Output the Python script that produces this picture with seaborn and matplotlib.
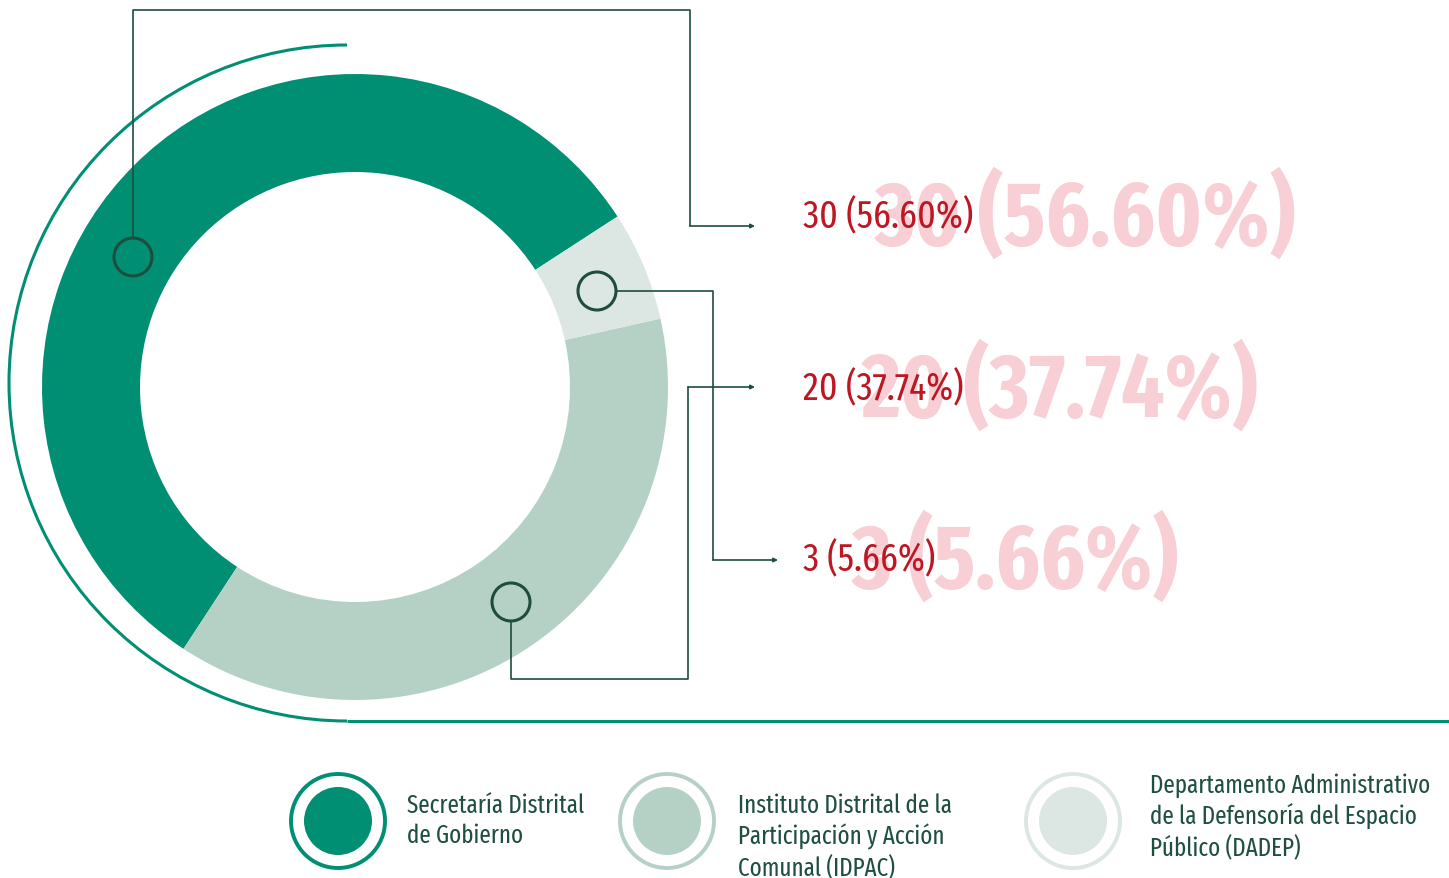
import matplotlib
matplotlib.use("Agg")
import matplotlib.pyplot as plt
import seaborn as sns
from matplotlib.patches import Arc, Circle

# ---- data ----
entities = ["Secretaría Distrital\nde Gobierno",
            "Instituto Distrital de la\nParticipación y Acción\nComunal (IDPAC)",
            "Departamento Administrativo\nde la Defensoría del Espacio\nPúblico (DADEP)"]
counts = [30, 20, 3]
percents = [56.60, 37.74, 5.66]
colors = ["#008F72", "#B5D1C6", "#DCE6E2"]

sns.set_theme(style="white")
plt.rcParams['font.family'] = ['Fira Sans Extra Condensed', 'DejaVu Sans']

W, H = 1449, 879
fig = plt.figure(figsize=(W / 100, H / 100), dpi=100)
ax = fig.add_axes([0, 0, 1, 1])

def Y(y):
    return H - y

LINE = "#1E4D40"
GREEN = "#008F72"
RED = "#BE1622"
PINK = "#F7CFD4"

# donut
cx, cy, R, w = 355, 388, 313, 98
ax.pie(counts, colors=colors, startangle=33, counterclock=True,
       center=(cx, Y(cy)), radius=R,
       wedgeprops=dict(width=w, edgecolor="none", linewidth=0))

# outer decorative arc + base line
ax.add_patch(Arc((347, Y(384)), 2 * 338, 2 * 338, theta1=90, theta2=270,
                 color=GREEN, lw=2.2))
ax.plot([347, W], [Y(722), Y(722)], color=GREEN, lw=2.2, solid_capstyle="butt")

# connectors
rc = 19
paths = [
    ((133, 258), [(133, 258 - rc), (133, 11), (690, 11), (690, 227), (755, 227)]),
    ((597, 292), [(597 + rc, 292), (713, 292), (713, 561), (778, 561)]),
    ((511, 603), [(511, 603 + rc), (511, 680), (688, 680), (688, 388), (755, 388)]),
]
for (ccx, ccy), pts in paths:
    ax.add_patch(Circle((ccx, Y(ccy)), rc, fill=False, edgecolor=LINE, lw=2.2, zorder=5))
    xs = [p[0] for p in pts]
    ys = [Y(p[1]) for p in pts]
    ax.plot(xs[:-1], ys[:-1], color=LINE, lw=1.2, zorder=5)
    ax.annotate("", xy=(xs[-1], ys[-1]), xytext=(xs[-2], ys[-2]),
                arrowprops=dict(arrowstyle="-|>", color=LINE, lw=1.2,
                                mutation_scale=6, shrinkA=0, shrinkB=0), zorder=5)

# value labels
label_y = [219, 391, 562]
big_x = [875, 862, 852]
for i, yy, bx in zip([0, 1, 2], label_y, big_x):
    txt = f"{counts[i]} ({percents[i]:.2f}%)"
    ax.text(bx, Y(yy), txt, color=PINK, fontsize=66, fontweight="bold",
            ha="left", va="center", zorder=3)
    ax.text(803, Y(yy - 2), txt, color=RED, fontsize=28,
            ha="left", va="center", zorder=4)

# legend
leg = [((338, 822), (407, 821)), ((667, 822), (738, 837)), ((1073, 822), (1150, 817))]
for i, ((lx, ly), (tx, ty)) in enumerate(leg):
    ax.add_patch(Circle((lx, Y(ly)), 34, color=colors[i], lw=0))
    ax.add_patch(Circle((lx, Y(ly)), 47, fill=False, edgecolor=colors[i], lw=2.8))
    ax.text(tx, Y(ty), entities[i], color="#1F4E43", fontsize=18,
            ha="left", va="center", linespacing=1.28)

ax.set_xlim(0, W)
ax.set_ylim(0, H)
ax.set_aspect("equal")
ax.axis("off")
fig.savefig("out.png", dpi=100)
